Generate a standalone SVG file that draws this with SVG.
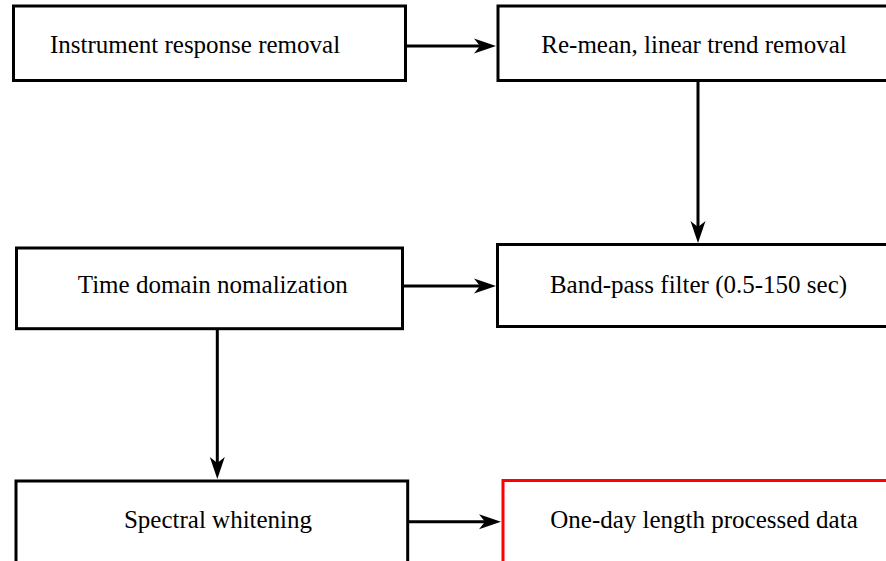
<svg xmlns="http://www.w3.org/2000/svg" width="886" height="561" viewBox="0 0 886 561">
  <style>
    .box { fill: #ffffff; stroke: #000000; stroke-width: 3; }
    .red { stroke: #ff0000; }
    .lbl { font-family: "Liberation Serif", "Times New Roman", serif; font-size: 25px; fill: #000000; text-anchor: middle; }
    .conn { stroke: #000000; stroke-width: 3; fill: none; marker-end: url(#arrow); }
  </style>
  <defs>
    <marker id="arrow" markerUnits="userSpaceOnUse" viewBox="0 -8 23 16" markerWidth="23" markerHeight="16" refX="12" refY="0" orient="auto">
      <path d="M22,0 L0,-7.5 L6,0 L0,7.5 Z" fill="#000000"/>
    </marker>
  </defs>
  <rect width="886" height="561" fill="#ffffff"/>
  <g id="connectors">
    <line class="conn" x1="405.5" y1="46" x2="486" y2="46"/>
    <line class="conn" x1="698" y1="80.5" x2="698" y2="233"/>
    <line class="conn" x1="402.5" y1="286" x2="486" y2="286"/>
    <line class="conn" x1="217.3" y1="328.7" x2="217.3" y2="469"/>
    <line class="conn" x1="407.7" y1="521.7" x2="491" y2="521.7"/>
  </g>
  <g id="instrument">
    <rect class="box" x="13.5" y="6" width="392" height="74.5"/>
    <text class="lbl" x="195" y="53">Instrument response removal</text>
  </g>
  <g id="remean">
    <rect class="box" x="498" y="6" width="392" height="74.5"/>
    <text class="lbl" x="694" y="53">Re-mean, linear trend removal</text>
  </g>
  <g id="timedomain">
    <rect class="box" x="16.5" y="248" width="386" height="80.7"/>
    <text class="lbl" x="212.7" y="293">Time domain nomalization</text>
  </g>
  <g id="bandpass">
    <rect class="box" x="497.5" y="244.5" width="392" height="82"/>
    <text class="lbl" x="698.5" y="293">Band-pass filter (0.5-150 sec)</text>
  </g>
  <g id="spectral">
    <rect class="box" x="16" y="481" width="391.7" height="81.5"/>
    <text class="lbl" x="218" y="528">Spectral whitening</text>
  </g>
  <g id="oneday">
    <rect class="box red" x="503" y="480.5" width="392" height="82"/>
    <text class="lbl" x="704" y="528">One-day length processed data</text>
  </g>
</svg>
